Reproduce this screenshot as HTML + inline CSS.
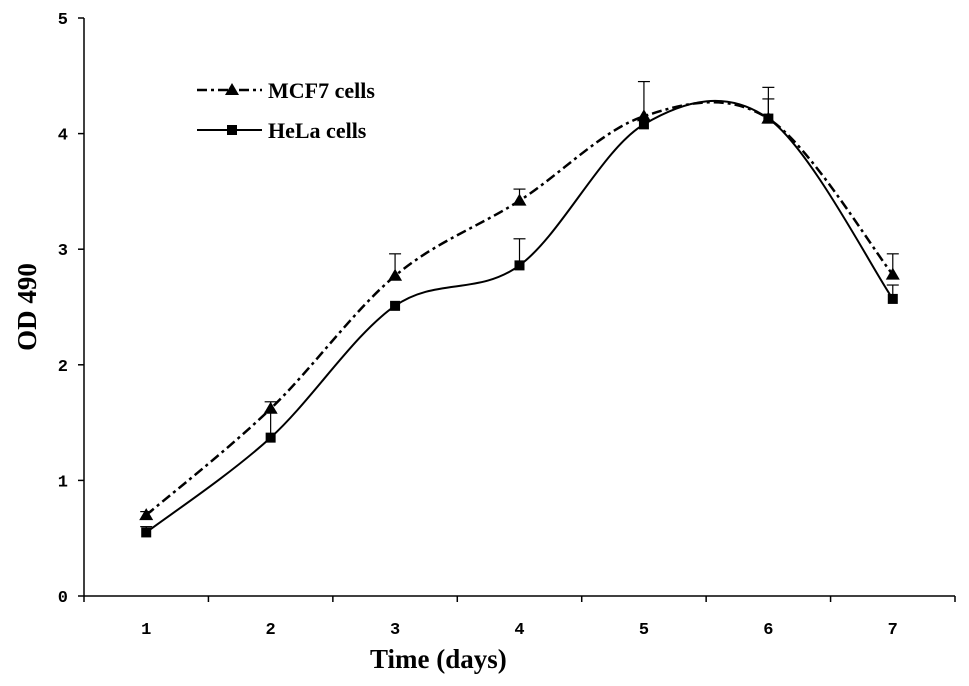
<!DOCTYPE html>
<html><head><meta charset="utf-8"><style>
body{margin:0;background:#fff}
svg{display:block}
text{font-family:"Liberation Serif",serif;font-weight:bold;fill:#000}
</style></head><body>
<svg width="969" height="686" id="chart">
<g id="axes"></g><g id="plot"></g>
<g>
<line x1="197" y1="90" x2="262" y2="90" stroke="#000" stroke-width="2.5" stroke-dasharray="10,4,3,4"/>
<polygon points="232,83 239,95 225,95" fill="#000"/>
<text x="268" y="98" font-size="22">MCF7 cells</text>
<line x1="197" y1="130" x2="262" y2="130" stroke="#000" stroke-width="2"/>
<rect x="227" y="125" width="10" height="10" fill="#000"/>
<text x="268" y="138" font-size="22">HeLa cells</text>
</g>
<text x="370" y="668" font-size="27">Time (days)</text>
<text transform="translate(36,307) rotate(-90)" text-anchor="middle" font-size="27">OD 490</text>
</svg>
<script>
const categories=[1,2,3,4,5,6,7];
const mcf7=[0.70,1.62,2.77,3.42,4.15,4.13,2.78];
const mcf7Err=[0.03,0.06,0.19,0.10,0.30,0.27,0.18];
const hela=[0.55,1.37,2.51,2.86,4.08,4.13,2.57];
const helaErr=[0.05,0.22,0.0,0.23,0.0,0.17,0.12];
const yTicks=[0,1,2,3,4,5];
const NS="http://www.w3.org/2000/svg";
const X0=84,X1=955,Y0=596,Y5=18;
const xs=i=>X0+(X1-X0)/categories.length*(i+0.5);
const ys=v=>Y0-(Y0-Y5)*v/5;
function mk(tag,attrs,parent){const e=document.createElementNS(NS,tag);for(const k in attrs)e.setAttribute(k,attrs[k]);parent.appendChild(e);return e;}
const axes=document.getElementById('axes'),plot=document.getElementById('plot');
let e=mk('line',{x1:X0,y1:Y5,x2:X0,y2:Y0,stroke:'#000','stroke-width':1.5},axes);


e=mk('line',{x1:X0,y1:Y0,x2:X1,y2:Y0,stroke:'#000','stroke-width':1.5},axes);


const tickStyle='font-family:"Liberation Mono",monospace;font-size:17px;font-weight:bold';
yTicks.forEach(t=>{
 mk('line',{x1:X0-6,y1:ys(t),x2:X0,y2:ys(t),stroke:'#000','stroke-width':1.5},axes);
 const tx=mk('text',{x:X0-16,y:ys(t)+6,'text-anchor':'end',style:tickStyle},axes);
 tx.textContent=t;
 
 
});
for(let i=0;i<=categories.length;i++){const x=X0+(X1-X0)/categories.length*i;mk('line',{x1:x,y1:Y0,x2:x,y2:Y0+6,stroke:'#000','stroke-width':1.5},axes);}
categories.forEach((c,i)=>{
 const tx=mk('text',{x:xs(i),y:Y0+38,'text-anchor':'middle',style:tickStyle},axes);
 tx.textContent=c;
 
 
});
function smooth(vals){
 const p=vals.map((v,i)=>[xs(i),ys(v)]);let d=`M${p[0][0]},${p[0][1]}`;
 for(let i=0;i<p.length-1;i++){const a=p[Math.max(i-1,0)],b=p[i],c=p[i+1],n=p[Math.min(i+2,p.length-1)];
  d+=` C${b[0]+(c[0]-a[0])/6},${b[1]+(c[1]-a[1])/6} ${c[0]-(n[0]-b[0])/6},${c[1]-(n[1]-b[1])/6} ${c[0]},${c[1]}`;}
 return d;}
function series(vals,errs,dash,name,marker){
 const p=mk('path',{d:smooth(vals),fill:'none',stroke:'#000','stroke-width':dash?2.5:2,'stroke-dasharray':dash||'none'},plot);
 
 
 vals.forEach((v,i)=>{
  const x=xs(i),y=ys(v);
  if(errs[i]>0){const t=ys(v+errs[i]);mk('line',{x1:x,y1:y,x2:x,y2:t,stroke:'#000','stroke-width':1.2},plot);mk('line',{x1:x-6,y1:t,x2:x+6,y2:t,stroke:'#000','stroke-width':1.2},plot);}
  let m;
  if(marker==='tri')m=mk('polygon',{points:`${x},${y-7} ${x+7},${y+5} ${x-7},${y+5}`,fill:'#000'},plot);
  else m=mk('rect',{x:x-5,y:y-5,width:10,height:10,fill:'#000'},plot);
  
  
 });
}
series(hela,helaErr,null,'hela','sq');
series(mcf7,mcf7Err,'10,4,3,4','mcf7','tri');
</script>
</body></html>
